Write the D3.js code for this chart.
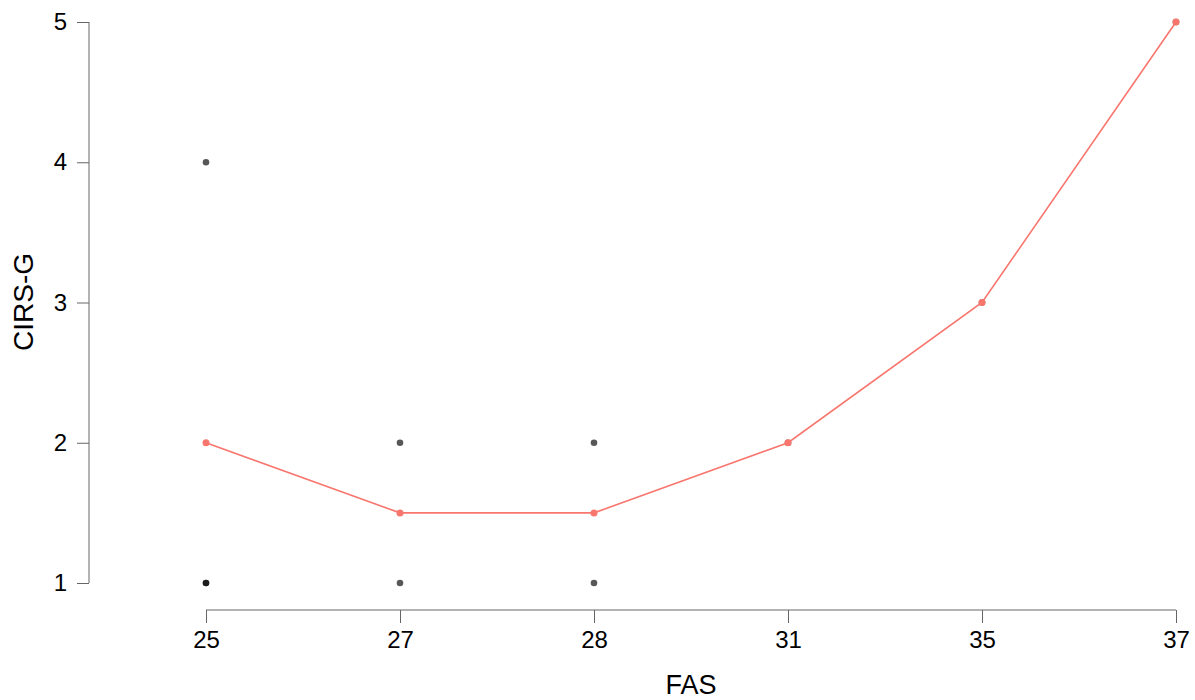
<!DOCTYPE html>
<html>
<head>
<meta charset="utf-8">
<script src="https://cdn.jsdelivr.net/npm/d3@7"></script>
<style>
  html, body { margin: 0; padding: 0; background: #fff; }
  svg { display: block; font-family: "Liberation Sans", Arial, sans-serif; }
</style>
</head>
<body>
<svg id="chart" width="1195" height="700"></svg>
<script>
// Data
const categories = ["25", "27", "28", "31", "35", "37"];
// individual observations (FAS category, CIRS-G value)
const obsFAS  = ["25", "25", "25", "27", "27", "28", "28", "31", "35", "37"];
const obsCIRS = [4, 1, 1, 2, 1, 2, 1, 2, 3, 5];
// mean CIRS-G per FAS category
const meanCIRS = [2, 1.5, 1.5, 2, 3, 5];
const yTicks = [1, 2, 3, 4, 5];

const svg = d3.select("#chart");

const x = d3.scalePoint().domain(categories).range([206, 1176]);
const y = d3.scaleLinear().domain([1, 5]).range([583, 22]);

const axisColor = "#666";

// Y axis
const yAxis = svg.append("g")
  .attr("transform", "translate(89,0)")
  .call(d3.axisLeft(y).tickValues(yTicks).tickFormat(d3.format("d")).tickSize(12).tickPadding(10));
yAxis.select(".domain").attr("d", `M-0,${y(1)}H0V${y(5)}H-0`).attr("stroke", axisColor);
yAxis.selectAll(".tick line").attr("stroke", axisColor);
yAxis.selectAll(".tick text").attr("font-size", 24).attr("fill", "#000")
  .attr("font-family", "Liberation Sans, Arial, sans-serif");

// X axis
const xAxis = svg.append("g")
  .attr("transform", "translate(0,610)")
  .call(d3.axisBottom(x).tickSize(13).tickPadding(8));
xAxis.select(".domain").attr("d", `M${x("25")},0H${x("37")}`).attr("stroke", axisColor);
xAxis.selectAll(".tick line").attr("stroke", axisColor);
xAxis.selectAll(".tick text").attr("font-size", 24).attr("fill", "#000")
  .attr("font-family", "Liberation Sans, Arial, sans-serif");

// Axis titles
svg.append("text")
  .attr("x", 691).attr("y", 694)
  .attr("text-anchor", "middle")
  .attr("font-size", 27).attr("fill", "#000")
  .text("FAS");
svg.append("text")
  .attr("transform", "translate(33,302) rotate(-90)")
  .attr("text-anchor", "middle")
  .attr("font-size", 28).attr("fill", "#000")
  .text("CIRS-G");

// Observations
svg.append("g").selectAll("circle")
  .data(obsFAS.map((f, i) => ({ f, v: obsCIRS[i] })))
  .join("circle")
  .attr("cx", d => x(d.f))
  .attr("cy", d => y(d.v))
  .attr("r", 3.3)
  .attr("fill", "#000")
  .attr("fill-opacity", 0.66);

// Mean line
const meanData = categories.map((c, i) => ({ c, v: meanCIRS[i] }));
svg.append("path")
  .datum(meanData)
  .attr("fill", "none")
  .attr("stroke", "#F8766D")
  .attr("stroke-width", 1.6)
  .attr("d", d3.line().x(d => x(d.c)).y(d => y(d.v)));
svg.append("g").selectAll("circle")
  .data(meanData)
  .join("circle")
  .attr("cx", d => x(d.c))
  .attr("cy", d => y(d.v))
  .attr("r", 3.5)
  .attr("fill", "#F8766D");
</script>
</body>
</html>
